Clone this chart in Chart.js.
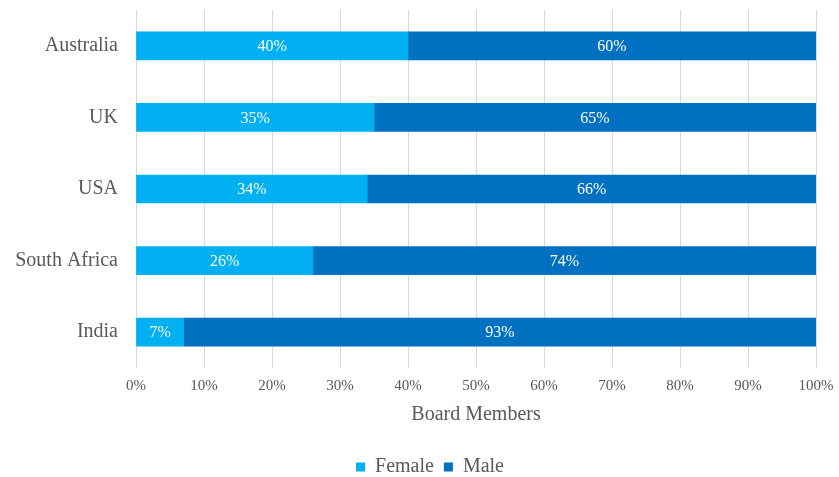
<!DOCTYPE html>
<html>
<head>
<meta charset="utf-8">
<script src="https://cdn.jsdelivr.net/npm/chart.js@4/dist/chart.umd.min.js"></script>
<style>
    html, body { margin: 0; padding: 0; background: #ffffff; }
    #wrap { width: 839px; height: 477px; }
</style>
</head>
<body>
<div id="wrap"><canvas id="boardChart"></canvas></div>
<script>
// Board member gender split by country
const countries = ['Australia', 'UK', 'USA', 'South Africa', 'India'];
const femaleShare = [40, 35, 34, 26, 7];
const maleShare = [60, 65, 66, 74, 93];
const seriesNames = ['Female', 'Male'];

const FONT = '"Liberation Serif", "Times New Roman", serif';
const TEXT_GREY = '#595959';

// Writes the percentage in the middle of every bar segment
const segmentLabels = {
    id: 'segmentLabels',
    afterDatasetsDraw(chart) {
        const ctx = chart.ctx;
        ctx.save();
        ctx.fillStyle = '#ffffff';
        ctx.font = '16px ' + FONT;
        ctx.textAlign = 'center';
        ctx.textBaseline = 'middle';
        chart.data.datasets.forEach((ds, di) => {
            chart.getDatasetMeta(di).data.forEach((bar, i) => {
                const cx = (bar.x + bar.base) / 2;
                ctx.fillText(ds.data[i] + '%', cx, bar.y + 1);
            });
        });
        ctx.restore();
    }
};

// Centre the legend under the plot area rather than the whole canvas
const legendShift = {
    id: 'legendShift',
    afterLayout(chart) {
        if (chart.legend) {
            chart.legend.left += 44;
        }
    }
};

new Chart(document.getElementById('boardChart'), {
    type: 'bar',
    data: {
        labels: countries,
        datasets: [
            {
                label: seriesNames[0],
                data: femaleShare,
                backgroundColor: '#00b0f0',
                barThickness: 28
            },
            {
                label: seriesNames[1],
                data: maleShare,
                backgroundColor: '#0070c0',
                barThickness: 28
            }
        ]
    },
    options: {
        indexAxis: 'y',
        responsive: true,
        maintainAspectRatio: false,
        animation: false,
        layout: { padding: { left: 0, right: 23, top: 10, bottom: -10 } },
        scales: {
            x: {
                stacked: true,
                min: 0,
                max: 100,
                border: { display: false },
                grid: { color: '#d9d9d9', drawTicks: false },
                ticks: {
                    stepSize: 10,
                    padding: 9,
                    color: TEXT_GREY,
                    font: { family: FONT, size: 15 },
                    callback: (v) => v + '%'
                },
                title: {
                    display: true,
                    text: 'Board Members',
                    color: TEXT_GREY,
                    font: { family: FONT, size: 20 },
                    padding: { top: 4, bottom: 20 }
                },
                afterFit: (scale) => {
                    scale.height = 79;
                    scale.paddingLeft = 0;
                    scale.paddingRight = 0;
                }
            },
            y: {
                stacked: true,
                border: { display: false },
                grid: { display: false, drawTicks: false },
                ticks: {
                    padding: 18,
                    color: TEXT_GREY,
                    font: { family: FONT, size: 20 }
                },
                afterFit: (scale) => {
                    scale.width = 136;
                    scale.paddingTop = 0;
                    scale.paddingBottom = 0;
                }
            }
        },
        plugins: {
            legend: {
                position: 'bottom',
                labels: {
                    boxWidth: 9,
                    boxHeight: 9,
                    padding: 10,
                    color: TEXT_GREY,
                    font: { family: FONT, size: 20 }
                }
            },
            tooltip: { enabled: false }
        }
    },
    plugins: [legendShift, segmentLabels]
});
</script>
</body>
</html>
